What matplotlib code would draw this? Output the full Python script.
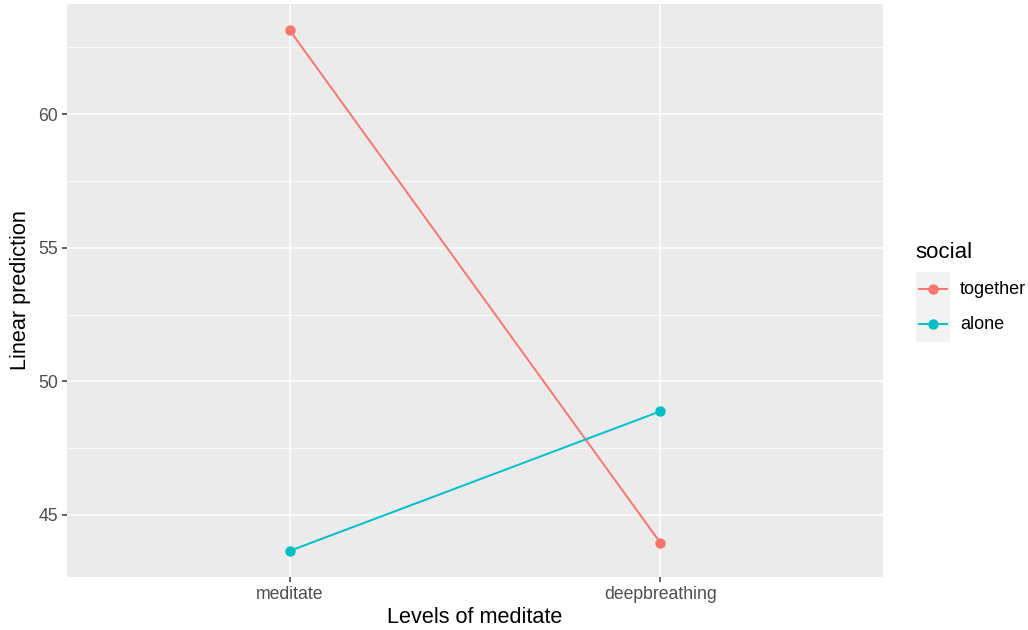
import matplotlib.pyplot as plt
from matplotlib.patches import Rectangle
from matplotlib.lines import Line2D

plt.rcParams['font.family'] = ['Liberation Sans', 'DejaVu Sans']

# predicted values per condition
levels = ["meditate", "deepbreathing"]
groups = ["together", "alone"]
together = [63.15, 43.95]
alone = [43.65, 48.88]
colors = ["#F8766D", "#00BFC4"]

W, H = 1028, 630
fig = plt.figure(figsize=(W / 100, H / 100), dpi=100)
ax = fig.add_axes([67 / W, (H - 577) / H, 816 / W, 573 / H])
ax.set_facecolor("#EBEBEB")
for s in ax.spines.values():
    s.set_visible(False)

x = list(range(1, len(levels) + 1))
for vals, c in zip([together, alone], colors):
    ax.plot(x, vals, color=c, lw=1.4, marker="o", ms=6.5, zorder=3)

allv = together + alone
lo, hi = min(allv), max(allv)
pad = (hi - lo) * 0.05
ax.set_ylim(lo - pad, hi + pad)
ax.set_xlim(0.4, len(levels) + 0.6)

ax.set_xticks(x)
ax.set_xticklabels(levels)
ax.set_yticks([45, 50, 55, 60])
ax.set_yticks([47.5, 52.5, 57.5, 62.5], minor=True)
ax.grid(True, which="major", color="white", lw=1.1, zorder=0)
ax.grid(True, which="minor", axis="y", color="white", lw=0.55, zorder=0)
ax.set_axisbelow(True)
ax.tick_params(which="major", length=3.5, width=1.1, color="#333333",
               labelsize=12.7, labelcolor="#4D4D4D", pad=3)
ax.tick_params(which="minor", length=0)

ax.set_xlabel("Levels of meditate", fontsize=15.6, labelpad=3)
ax.set_ylabel("Linear prediction", fontsize=15.6, labelpad=5)

# legend drawn by hand, ggplot style
fig.text(915 / W, 1 - 253 / H, "social", fontsize=16, va="center", ha="left")
for i, (g, c) in enumerate(zip(groups, colors)):
    top = 272 + i * 35
    fig.add_artist(Rectangle((916 / W, 1 - (top + 35) / H), 34 / W, 35 / H,
                             transform=fig.transFigure, facecolor="#F2F2F2",
                             edgecolor="none"))
    yc = 1 - (top + 17.5) / H
    fig.add_artist(Line2D([919 / W, 947 / W], [yc, yc], transform=fig.transFigure,
                          color=c, lw=1.4))
    fig.add_artist(Line2D([933 / W], [yc], transform=fig.transFigure,
                          color=c, marker="o", ms=6.5))
    fig.text(960 / W, yc, g, fontsize=13, va="center", ha="left")

fig.savefig("out.png", dpi=100)
